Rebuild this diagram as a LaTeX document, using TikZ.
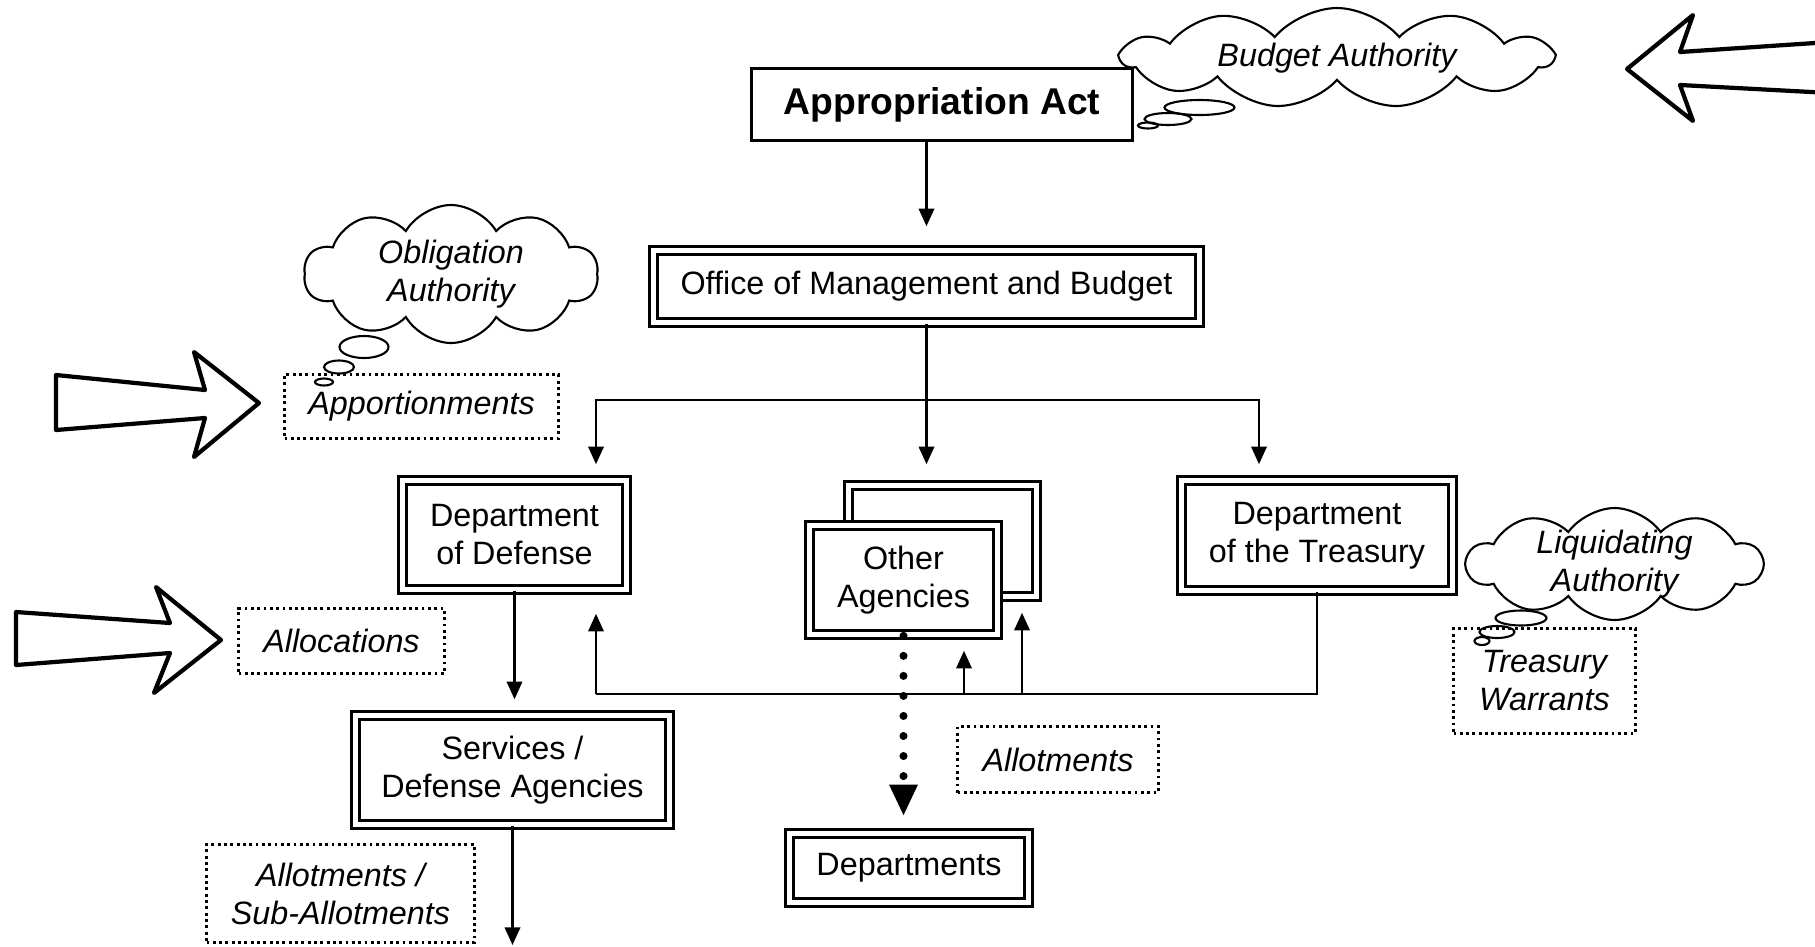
\documentclass[tikz,border=0pt]{standalone}
\usepackage{fontspec}
\setmainfont{Liberation Sans}
\usetikzlibrary{arrows.meta,shapes.symbols,positioning}
\begin{document}
\begin{tikzpicture}[
  font=\fontsize{9.2pt}{10.8pt}\selectfont,
  box/.style={draw,double,line width=0.75pt,double distance=1.6pt,fill=white,align=center,inner sep=2pt},
  note/.style={draw,densely dotted,line width=0.8pt,align=center,font=\fontsize{9.2pt}{10.8pt}\selectfont\itshape},
  thought/.style={cloud,draw,line width=0.6pt,cloud ignores aspect,align=center,inner sep=-2pt,font=\fontsize{9.2pt}{10.8pt}\selectfont\itshape},
  flow/.style={line width=0.6pt,arrows={-Triangle[length=5pt,width=4.4pt]},shorten >=0.15cm},
  bigarrow/.style={line width=1.2pt,line join=round,fill=white}
]
\useasboundingbox (0,0) rectangle (18.15,-9.46);
\node[draw,line width=0.8pt,minimum width=3.81cm,minimum height=0.72cm,font=\fontsize{10.6pt}{12pt}\selectfont\bfseries] (appact) at (9.42,-1.045) {Appropriation Act};
\node[box,minimum width=5.46cm,minimum height=0.72cm] (omb) at (9.265,-2.865) {Office of Management and Budget};
\node[box,minimum width=2.24cm,minimum height=1.09cm] (dod) at (5.145,-5.35) {Department\\of Defense};
\node[box,minimum width=1.88cm,minimum height=1.11cm] (oaback) at (9.425,-5.41) {};
\node[box,minimum width=1.88cm,minimum height=1.09cm] (oafront) at (9.035,-5.80) {Other\\Agencies};
\node[box,minimum width=2.71cm,minimum height=1.10cm] (treas) at (13.17,-5.355) {Department\\of the Treasury};
\node[box,minimum width=3.14cm,minimum height=1.09cm] (serv) at (5.125,-7.70) {Services /\\Defense Agencies};
\node[box,minimum width=2.39cm,minimum height=0.69cm] (depts) at (9.09,-8.68) {Departments};

\node[note,minimum width=2.74cm,minimum height=0.64cm] (appor) at (4.215,-4.065) {Apportionments};
\node[note,minimum width=2.06cm,minimum height=0.65cm] (alloc) at (3.415,-6.41) {Allocations};
\node[note,minimum width=2.01cm,minimum height=0.66cm] (allot) at (10.58,-7.595) {Allotments};
\node[note,minimum width=2.68cm,minimum height=0.98cm] (suballot) at (3.405,-8.935) {Allotments /\\Sub-Allotments};
\node[note,minimum width=1.82cm,minimum height=1.05cm] (warrants) at (15.445,-6.81) {Treasury\\Warrants};

\node[thought,cloud puffs=11,cloud puff arc=100,minimum width=4.3cm,minimum height=1.0cm] (budget) at (13.37,-0.58) {Budget Authority};
\node[thought,cloud puffs=10,cloud puff arc=120,minimum width=2.94cm,minimum height=1.38cm] (oblig) at (4.51,-2.74) {Obligation\\Authority};
\node[thought,cloud puffs=10,cloud puff arc=110,minimum width=2.95cm,minimum height=1.12cm] (liquid) at (16.145,-5.64) {Liquidating\\Authority};

\draw[line width=0.6pt] (11.995,-1.075) ellipse (0.35 and 0.075);
\draw[line width=0.6pt] (11.68,-1.19) ellipse (0.235 and 0.06);
\draw[line width=0.6pt] (11.48,-1.255) ellipse (0.10 and 0.03);
\draw[line width=0.6pt] (3.64,-3.47) ellipse (0.245 and 0.11);
\draw[line width=0.6pt] (3.39,-3.67) ellipse (0.15 and 0.065);
\draw[line width=0.6pt] (3.24,-3.82) ellipse (0.09 and 0.035);
\draw[line width=0.6pt] (15.21,-6.18) ellipse (0.255 and 0.075);
\draw[line width=0.6pt] (14.97,-6.32) ellipse (0.175 and 0.06);
\draw[line width=0.6pt] (14.82,-6.41) ellipse (0.075 and 0.04);

\draw[bigarrow] (0.56,-3.75) -- (2.05,-3.90) -- (1.94,-3.52) -- (2.59,-4.03) -- (1.94,-4.57) -- (2.05,-4.18) -- (0.56,-4.30) -- cycle;
\draw[bigarrow] (0.16,-6.12) -- (1.70,-6.23) -- (1.56,-5.87) -- (2.21,-6.40) -- (1.54,-6.93) -- (1.70,-6.53) -- (0.16,-6.65) -- cycle;
\draw[bigarrow] (18.3,-0.42) -- (16.80,-0.52) -- (16.93,-0.15) -- (16.27,-0.69) -- (16.93,-1.21) -- (16.80,-0.85) -- (18.3,-0.93);

\coordinate (split) at (9.265,-4.00);
\coordinate (ret) at (5.96,-6.94);
\coordinate (up1) at (9.64,-6.94);
\coordinate (up2) at (10.22,-6.94);
\coordinate (subout) at (5.125,-9.45);
\draw[flow,shorten >=0.23cm] (appact.south -| omb) -- (omb);
\draw[line width=0.6pt] (omb) -- (split);
\draw[flow] (split) -| ([xshift=0.815cm]dod.north);
\draw[flow,shorten >=0.2cm] (split) -- (split |- oaback.north);
\draw[flow] (split) -| ([xshift=-0.58cm]treas.north);
\draw[flow] (dod) -- (dod |- serv.north);
\draw[flow,shorten >=0pt] (serv) -- (subout);
\draw[line width=0.6pt] (treas.south) |- (ret);
\draw[flow,shorten >=0.23cm] (ret) -- (ret |- dod.south);
\draw[flow] (up1) -- (up1 |- oafront.south);
\draw[flow] (up2) -- (up2 |- oaback.south);
\draw[line width=2.3pt,line cap=round,dash pattern=on 0pt off 5.7pt,arrows={-Triangle[length=9pt,width=7.5pt]},shorten >=0.16cm] (oafront) -- (oafront |- depts.north);
\end{tikzpicture}
\end{document}
